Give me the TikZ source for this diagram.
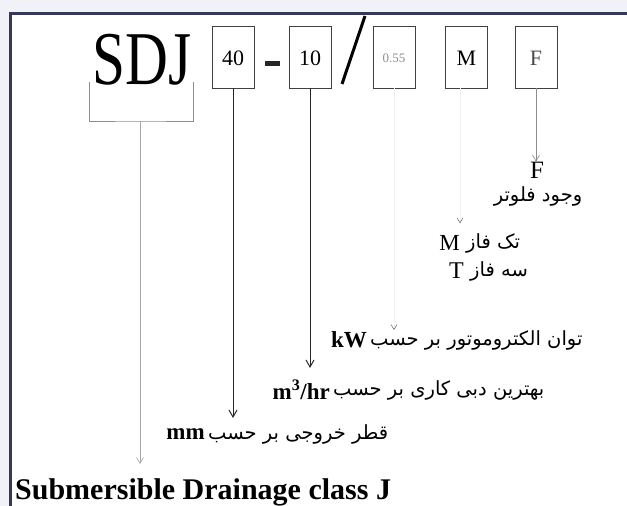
\documentclass[tikz,border=0pt]{standalone}
\usepackage{fontspec}
\setmainfont{Liberation Serif}
\newfontfamily\fafont[Script=Arabic]{DejaVu Sans}
\TeXXeTstate=1
\usepackage{tikz}
\usetikzlibrary{arrows.meta,positioning}

\definecolor{framecol}{RGB}{55,56,88}
\definecolor{outside}{RGB}{240,242,248}

\begin{document}
\begin{tikzpicture}[
  x=1pt,
  y=-1pt,
  codebox/.style={draw=black!75, line width=0.9pt, minimum width=42pt, minimum height=62pt,
    inner sep=0pt, text height=17pt, text depth=0pt, font=\fontsize{22}{22}\selectfont},
  lead/.style={-{Straight Barb[length=7pt,width=8pt]}, line width=1pt, color=black!85},
  thinlead/.style={-{Straight Barb[length=6pt,width=7pt]}, line width=0.6pt, color=black!45},
  ghost/.style={-{Straight Barb[length=5pt,width=6pt,color=black!60]}, line width=0.5pt, draw=black!6},
  latin/.style={inner sep=0pt, font=\fontsize{23}{23}\selectfont},
  unit/.style={inner sep=0pt, font=\fontsize{23}{23}\selectfont\bfseries},
  farsi/.style={inner sep=0pt, anchor=west, font=\fafont\fontsize{19.5}{22}\selectfont}
]
  \useasboundingbox (0,0) rectangle (627,506);
  \fill[outside] (0,0) rectangle (627,506);
  \fill[white] (10.5,13.5) rectangle (627,506);
  \draw[framecol, line width=2.6pt] (10.5,506) -- (10.5,13.5) -- (627,13.5);

  \node[inner sep=0pt, anchor=base, font=\fontsize{76}{76}\selectfont] (sdj) at (142,84) {\scalebox{0.78}[1]{SDJ}};
  \node[codebox] (b40) at (233,57) {40};
  \node[inner sep=0pt, fill=black!85, minimum width=15pt, minimum height=5pt] (dash) at (272,63) {};
  \node[codebox] (b10) at (310,57) {10};
  \node[codebox, font=\fontsize{13}{13}\selectfont\color{black!45}, text height=10pt] (bkw) at (394,57) {0.55};
  \node[codebox] (bm) at (466.5,57) {M};
  \node[codebox, font=\fontsize{22}{22}\selectfont\color{black!70}] (bf) at (536,57) {F};
  \draw[line width=3pt] (342,84) -- (365,16);

  \coordinate (brl) at (89,82);
  \coordinate (brr) at (193,82);
  \coordinate (brc) at (140,121);
  \draw[black!45, line width=0.7pt] (brl) |- (brc) -| (brr);

  \node[latin, font=\fontsize{25}{25}\selectfont] (lf) at (537,170) {F};
  \node[farsi, anchor=center] (float) at (538,196) {\beginR وجود فلوتر\endR};
  \node[farsi] (mono) at (466,243) {\beginR تک فاز\endR};
  \node[latin, left=6pt of mono] (lm) {M};
  \node[farsi] (three) at (470,271) {\beginR سه فاز\endR};
  \node[latin, font=\fontsize{24}{24}\selectfont, left=6pt of three] (lt) {T};
  \node[farsi] (power) at (370,340) {\beginR توان الکتروموتور بر حسب\endR};
  \node[unit, left=3pt of power] (lkw) {kW};
  \node[farsi] (flow) at (333,390) {\beginR بهترین دبی کاری بر حسب\endR};
  \node[unit, left=3pt of flow] (lflow) {m\textsuperscript{3}/hr};
  \node[farsi] (dia) at (208,434) {\beginR قطر خروجی بر حسب\endR};
  \node[unit, left=3pt of dia] (lmm) {mm};
  \node[inner sep=0pt, anchor=base west, font=\fontsize{30}{30}\selectfont\bfseries] (class) at (15,499) {Submersible Drainage class J};

  \draw[lead] (b40.south) -- (b40.south |- 0,418);
  \draw[lead] (b10.south) -- (b10.south |- 0,368);
  \draw[thinlead] (bf.south) -- (bf.south |- lf.north);
  \draw[thinlead, black!35] (brc) -- (brc |- 0,464);
  \draw[ghost] (bm.south -| lm.east) -- ([yshift=12pt]lm.north east);
  \draw[ghost] (bkw.south) -- (bkw.south |- power.north);
\end{tikzpicture}
\end{document}
